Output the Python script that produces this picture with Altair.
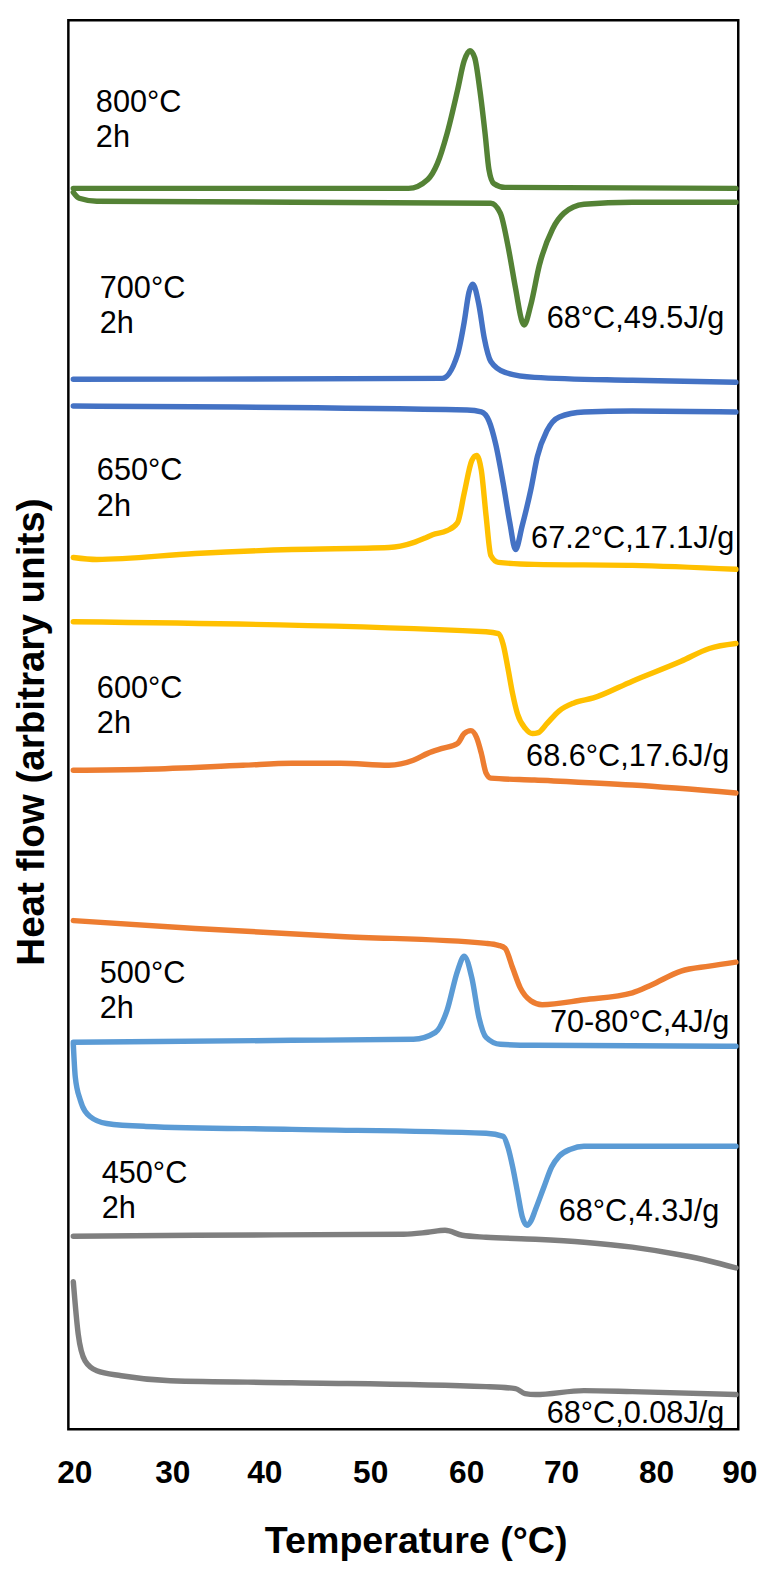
import altair as alt
import pandas as pd

# ---- x axis ticks (Temperature, °C) ----
tick_vals = [20, 30, 40, 50, 60, 70, 80, 90]
tick_px = [6, 105, 198, 305, 402, 498, 594, 678]   # where the original figure places its tick labels

# ---- DSC curves: (temperature, heat flow in arbitrary units) ----
c800_T = [19.9, 54.0, 56.0, 57.0, 58.0, 59.1, 59.8, 60.4, 60.9, 61.45, 62.0, 62.4, 62.9, 64.1, 89.6]
c800_A = [1254, 1254, 1263, 1279, 1309, 1353, 1383, 1393, 1386, 1353, 1309, 1273, 1259, 1255, 1254]
h800_T = [19.9, 20.5, 22.3, 62.6, 63.6, 64.4, 65.2, 65.9, 66.1, 66.8, 67.7, 69.1, 70.3, 72.4, 77.5, 89.6]
h800_A = [1250, 1244, 1241, 1239, 1229, 1196, 1153, 1119, 1116, 1136, 1176, 1213, 1229, 1238, 1240, 1240]

c700_T = [19.9, 57.5, 59.1, 59.8, 60.3, 60.7, 61.35, 61.9, 62.6, 64.1, 67.2, 77.5, 89.6]
c700_A = [1061, 1062, 1086, 1119, 1149, 1157, 1136, 1103, 1079, 1068, 1063, 1060, 1058]
h700_T = [19.9, 60.1, 61.6, 62.4, 63.1, 63.9, 64.6, 65.2, 65.9, 66.8, 67.5, 68.5, 69.8, 72.4, 77.5, 89.6]
h700_A = [1034, 1030, 1028, 1019, 996, 956, 916, 889, 913, 949, 983, 1009, 1023, 1028, 1029, 1028]

c650_T = [19.9, 22.3, 32.5, 42.6, 51.96, 54.5, 55.8, 56.5, 58.0, 59.1, 59.8, 60.6, 61.1, 61.6, 62.1, 62.6, 63.4, 67.2, 77.5, 89.6]
c650_A = [881, 879, 885, 889, 891, 896, 901, 904, 908, 916, 946, 979, 984, 969, 923, 883, 876, 874, 873, 869]
h650_T = [19.9, 62.1, 63.4, 63.9, 64.4, 64.9, 65.4, 66.25, 66.98, 67.6, 68.5, 69.8, 71.35, 73.4, 77.5, 83.0, 86.4, 89.6]
h650_A = [816, 806, 804, 793, 769, 743, 723, 708, 703, 704, 713, 726, 734, 739, 756, 776, 789, 794]

c600_T = [19.9, 27.3, 37.7, 42.6, 47.2, 51.96, 54.5, 56.0, 57.5, 59.1, 59.8, 60.5, 61.1, 61.6, 62.1, 62.6, 67.2, 77.5, 89.6]
c600_A = [666, 667, 671, 673, 673, 671, 676, 683, 688, 693, 703, 706, 699, 683, 663, 658, 656, 651, 643]
h600_T = [19.9, 32.5, 47.2, 62.1, 63.4, 64.1, 64.9, 65.7, 66.8, 68.0, 72.4, 77.5, 79.5, 83.0, 86.4, 89.6]
h600_A = [514, 506, 498, 491, 489, 486, 466, 446, 433, 429, 434, 441, 449, 463, 468, 472]

c500_T = [19.9, 42.6, 54.5, 56.8, 58.0, 59.1, 59.8, 60.6, 61.35, 62.1, 63.6, 67.2, 89.6]
c500_A = [391, 393, 394, 401, 423, 463, 478, 456, 416, 396, 389, 388, 387]
h500_T = [19.9, 20.1, 20.6, 21.6, 23.3, 27.3, 42.6, 62.1, 63.9, 64.4, 64.9, 65.4, 65.9, 66.4, 66.8, 67.3, 68.2, 69.0, 69.8, 71.0, 72.4, 89.6]
h500_A = [389, 356, 333, 316, 309, 306, 303, 299, 296, 285, 265, 240, 215, 206, 210, 222, 245, 265, 276, 283, 286, 286]

c450_T = [19.9, 32.5, 53.5, 56.0, 57.8, 59.6, 62.1, 67.3, 72.4, 77.5, 83.0, 86.4, 89.6]
c450_A = [195, 196, 197, 199, 201, 196, 194, 192, 189, 184, 176, 170, 163]
h450_T = [19.9, 20.4, 21.1, 22.3, 24.8, 29.8, 42.6, 62.1, 65.2, 66.2, 67.3, 72.4, 77.5, 89.6]
h450_A = [149, 96, 69, 59, 54, 49, 47, 43, 41, 36, 35, 39, 38, 35]

series_names = ["800c", "800h", "700c", "700h", "650c", "650h", "600c", "600h", "500c", "500h", "450c", "450h"]
series_T = [c800_T, h800_T, c700_T, h700_T, c650_T, h650_T, c600_T, h600_T, c500_T, h500_T, c450_T, h450_T]
series_A = [c800_A, h800_A, c700_A, h700_A, c650_A, h650_A, c600_A, h600_A, c500_A, h500_A, c450_A, h450_A]
series_colors = ["#548235", "#548235", "#4472C4", "#4472C4", "#FFC000", "#FFC000",
                 "#ED7D31", "#ED7D31", "#5B9BD5", "#5B9BD5", "#7F7F7F", "#7F7F7F"]

# ---- annotations ----
left_text = ["800°C", "2h", "700°C", "2h", "650°C", "2h", "600°C", "2h", "500°C", "2h", "450°C", "2h"]
left_T = [22.2, 22.2, 22.6, 22.6, 22.3, 22.3, 22.3, 22.3, 22.6, 22.6, 22.8, 22.8]
left_A = [1331, 1296, 1143, 1108, 959, 923, 739, 704, 451, 416, 249, 213]

right_text = ["68°C,49.5J/g", "67.2°C,17.1J/g", "68.6°C,17.6J/g", "70-80°C,4J/g", "68°C,4.3J/g", "68°C,0.08J/g"]
right_T = [88.2, 89.4, 88.8, 88.8, 87.6, 88.2]
right_A = [1113, 891, 670, 401, 210, 6]

rows = []
for name, ts, As in zip(series_names, series_T, series_A):
    for i, (t, a) in enumerate(zip(ts, As)):
        rows.append({"series": name, "T": t, "A": a, "order": i})
curves = pd.DataFrame(rows)
left_df = pd.DataFrame({"label": left_text, "T": left_T, "A": left_A})
right_df = pd.DataFrame({"label": right_text, "T": right_T, "A": right_A})

FONT = "Liberation Sans"

xscale = alt.Scale(domain=tick_vals, range=tick_px, zero=False, nice=False)
yscale = alt.Scale(domain=[0, 1424], zero=False, nice=False)

xaxis = alt.Axis(values=tick_vals, ticks=False, tickSize=0, domain=False, grid=False,
                 labelFont=FONT, labelFontWeight="bold", labelFontSize=32, labelColor="black",
                 labelBaseline="alphabetic", labelPadding=54, labelFlush=False, labelOverlap=False,
                 title="Temperature (°C)", titleFont=FONT, titleFontWeight="bold", titleFontSize=38,
                 titleColor="black", titleX=351, titleY=125, titleAlign="center",
                 titleBaseline="alphabetic")
yaxis = alt.Axis(labels=False, ticks=False, domain=False, grid=False,
                 title="Heat flow (arbitrary units)", titleFont=FONT, titleFontWeight="bold",
                 titleFontSize=39, titleColor="black", titleAngle=270, titleX=-25, titleY=719,
                 titleAlign="center", titleBaseline="alphabetic")

lines = alt.Chart(curves).mark_line(interpolate="monotone", strokeWidth=5.5, strokeCap="round",
                                    strokeJoin="round").encode(
    x=alt.X("T:Q", scale=xscale, axis=xaxis),
    y=alt.Y("A:Q", scale=yscale, axis=yaxis),
    color=alt.Color("series:N", scale=alt.Scale(domain=series_names, range=series_colors), legend=None),
    order="order:Q",
)

left_labels = alt.Chart(left_df).mark_text(align="left", baseline="alphabetic", font=FONT,
                                           fontSize=31, color="black").encode(
    x=alt.X("T:Q", scale=xscale), y=alt.Y("A:Q", scale=yscale), text="label:N")

right_labels = alt.Chart(right_df).mark_text(align="right", baseline="alphabetic", font=FONT,
                                             fontSize=31, color="black").encode(
    x=alt.X("T:Q", scale=xscale), y=alt.Y("A:Q", scale=yscale), text="label:N")

chart = alt.layer(lines, left_labels, right_labels).properties(
    width=677, height=1424,
    autosize=alt.AutoSizeParams(type="none"),
    padding={"left": 61, "top": 4, "right": 24, "bottom": 132},
    background="white",
).configure_view(stroke="black", strokeWidth=2.5)

chart.save("out.html", embed_options={"renderer": "svg", "actions": False})
